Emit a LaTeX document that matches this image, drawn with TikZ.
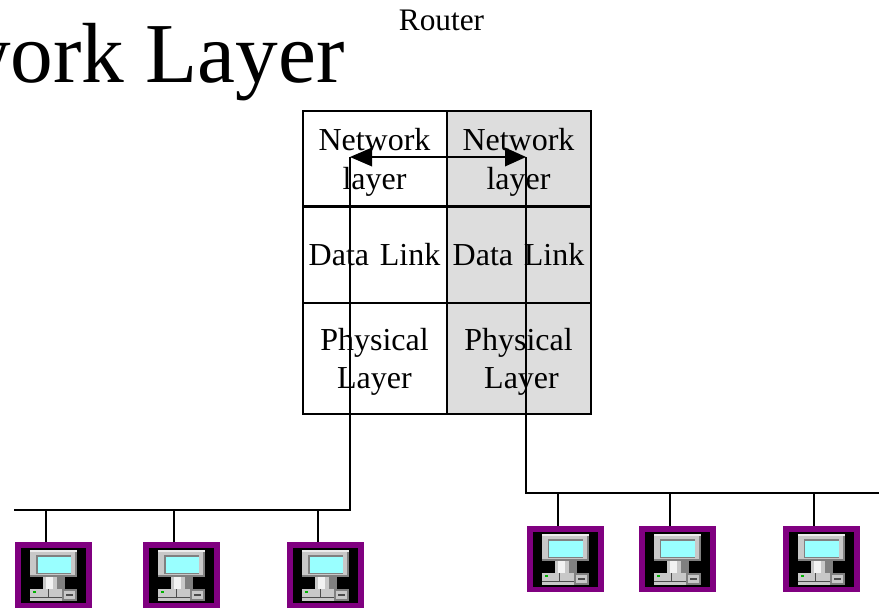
\documentclass[tikz,border=0pt]{standalone}
\usepackage{fontspec}
\setmainfont[Kerning=Off]{Liberation Serif}
\definecolor{pc}{RGB}{128,0,128}
\definecolor{cellgray}{RGB}{221,221,221}
\definecolor{scr}{RGB}{153,255,255}
\definecolor{mon}{RGB}{200,200,200}
\newcommand{\topstrut}{\rule{0pt}{22pt}}
\tikzset{
 cell/.style={draw=black,line width=1.5pt,minimum width=108pt,anchor=north west,inner sep=0pt,text width=108pt,align=center,font=\fontsize{24}{29}\selectfont},
 wire/.style={draw=black,line width=1.3pt},
 pcbox/.pic={
  \fill[pc] (0,0) rectangle (77,66);
  \fill[black] (6,6) rectangle (71,61);
  \fill[mon] (15,8) rectangle (62,35);
  \fill[gray] (60,8) rectangle (62,35);
  \fill[gray] (15,33) rectangle (62,35);
  \fill[white!85!gray] (15,8) rectangle (62,9.5);
  \fill[gray] (21,13) rectangle (56,32);
  \fill[scr] (22.5,14.5) rectangle (56,31);
  \fill[mon] (28,35) rectangle (50,47);
  \fill[white!90!gray] (31,35) rectangle (38,47);
  \fill[gray] (42,35) rectangle (50,47);
  \fill[mon] (15,47) rectangle (62,59);
  \fill[gray] (47,47) rectangle (62,59);
  \fill[mon] (49,49) rectangle (60,57);
  \fill[gray!60!black] (51,52) rectangle (58,54);
  \draw[gray!60!black,line width=.5pt] (15,55) -- (47,55) (33,47) -- (33,55);
  \fill[green!70!black] (18,49) rectangle (21,51);
 }
}
\begin{document}
\begin{tikzpicture}[x=0.75pt,y=-0.75pt]
\useasboundingbox (0,0) rectangle (879,608);
\begin{scope}
\clip (0,0) rectangle (879,608);
\node[anchor=base east,inner sep=0pt,font=\fontsize{64}{77}\selectfont] (title) at (345,82) {Network Layer};
\end{scope}
\node[anchor=base,inner sep=0pt,font=\fontsize{23.5}{28}\selectfont] (router) at (441.5,30) {Router};
\fill[cellgray] (445.5,110) rectangle (589.5,413);
\node[cell,minimum height=71.25pt] (n1) at (301.5,110) {\topstrut Network\\layer};
\node[cell,minimum height=71.25pt] (n2) at (445.5,110) {\topstrut Network\\layer};
\node[cell,minimum height=72pt] (d1) at (301.5,205.5) {Data Link};
\node[cell,minimum height=72pt] (d2) at (445.5,205.5) {Data Link};
\node[cell,minimum height=83.6pt] (p1) at (301.5,301.5) {\topstrut Physical\\Layer};
\node[cell,minimum height=83.6pt] (p2) at (445.5,301.5) {\topstrut Physical\\\hspace*{4.5pt}Layer};
\coordinate (al) at (350,157);
\coordinate (ar) at (526,157);
\coordinate (lc) at (350,510);
\coordinate (le) at (14,510);
\coordinate (rc) at (526,493);
\coordinate (re) at (879,493);
\draw[wire] (al) -- (lc) -- (le);
\draw[wire] (ar) -- (rc) -- (re);
\fill (al) -- (372,147.5) -- (372,166.5) -- cycle;
\fill (ar) -- (505,147.5) -- (505,166.5) -- cycle;
\draw[wire] (372,157) -- (505,157);
\foreach \n/\x/\y/\t/\bx in {a/15/542/510/46,b/143/542/510/174,c/287/542/510/318,d/526.5/526/493/558,e/638.5/526/493/670,f/782.5/526/493/814}{
  \pic at (\x,\y) {pcbox};
  \coordinate (top\n) at (\bx,\y);
  \coordinate (bus\n) at (\bx,\t);
  \draw[wire] (bus\n) -- (top\n);
}
\end{tikzpicture}
\end{document}
